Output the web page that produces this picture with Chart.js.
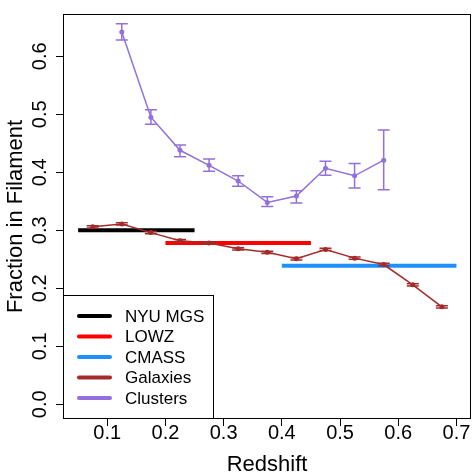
<!DOCTYPE html>
<html>
<head>
<meta charset="utf-8">
<script src="https://cdn.jsdelivr.net/npm/chart.js@4.4.1/dist/chart.umd.min.js"></script>
<style>
  html, body { margin: 0; padding: 0; background: #fff; }
  #wrap { width: 475px; height: 476px; }
</style>
</head>
<body>
<div id="wrap"><canvas id="chart" width="475" height="476"></canvas></div>
<script>
// --- data ---
const xTicks = [0.1, 0.2, 0.3, 0.4, 0.5, 0.6, 0.7];
const yTicks = [0.0, 0.1, 0.2, 0.3, 0.4, 0.5, 0.6];

const galaxyZ    = [0.075, 0.125, 0.175, 0.225, 0.275, 0.325, 0.375, 0.425, 0.475, 0.525, 0.575, 0.625, 0.675];
const galaxyFrac = [0.306, 0.311, 0.296, 0.282, 0.278, 0.268, 0.262, 0.251, 0.267, 0.252, 0.241, 0.206, 0.168];
const galaxyErr  = [0.002, 0.002, 0.002, 0.002, 0.002, 0.002, 0.002, 0.002, 0.002, 0.002, 0.002, 0.002, 0.002];

const clusterZ    = [0.125, 0.175, 0.225, 0.275, 0.325, 0.375, 0.425, 0.475, 0.525, 0.575];
const clusterFrac = [0.642, 0.495, 0.438, 0.412, 0.385, 0.348, 0.359, 0.407, 0.394, 0.421];
const clusterLo   = [0.628, 0.483, 0.427, 0.402, 0.376, 0.341, 0.347, 0.395, 0.373, 0.370];
const clusterHi   = [0.656, 0.508, 0.447, 0.423, 0.394, 0.358, 0.368, 0.419, 0.415, 0.473];

const nyuZ = [0.05, 0.25];   const nyuFrac = 0.300;
const lowzZ = [0.20, 0.45];  const lowzFrac = 0.278;
const cmassZ = [0.40, 0.70]; const cmassFrac = 0.239;

const legendLabels = ['NYU MGS', 'LOWZ', 'CMASS', 'Galaxies', 'Clusters'];

// --- helpers ---
const pts = (xs, ys) => xs.map((x, i) => ({ x, y: ys[i] }));
const flat = (xs, y) => xs.map(x => ({ x, y }));
const FONT = 'Liberation Sans, Arial, sans-serif';

// error bars: vertical line + caps
const errorBars = {
  id: 'errorBars',
  afterDatasetsDraw(chart) {
    const { ctx, scales: { x, y } } = chart;
    const drawBar = (xv, lo, hi, color, cap, lw) => {
      const px = x.getPixelForValue(xv);
      const p1 = y.getPixelForValue(lo), p2 = y.getPixelForValue(hi);
      ctx.strokeStyle = color;
      ctx.lineWidth = lw;
      ctx.beginPath();
      ctx.moveTo(px, p1); ctx.lineTo(px, p2);
      ctx.moveTo(px - cap, p1); ctx.lineTo(px + cap, p1);
      ctx.moveTo(px - cap, p2); ctx.lineTo(px + cap, p2);
      ctx.stroke();
    };
    ctx.save();
    galaxyZ.forEach((z, i) =>
      drawBar(z, galaxyFrac[i] - galaxyErr[i], galaxyFrac[i] + galaxyErr[i], '#A52A2A', 6, 1.5));
    clusterZ.forEach((z, i) =>
      drawBar(z, clusterLo[i], clusterHi[i], '#9370DB', 6, 1.5));
    ctx.restore();
  }
};

// R-style box around the plot + legend box in bottom-left corner
const boxAndLegend = {
  id: 'boxAndLegend',
  afterDraw(chart) {
    const { ctx, chartArea: a } = chart;
    ctx.save();
    ctx.strokeStyle = '#000';
    ctx.lineWidth = 1;
    ctx.strokeRect(a.left + 0.5, a.top + 0.5, a.right - a.left - 1, a.bottom - a.top - 1);

    // legend
    const lx = a.left, ly = 295, lw = 150, lh = a.bottom - ly;
    ctx.fillStyle = '#fff';
    ctx.fillRect(lx + 0.5, ly + 0.5, lw, lh - 1);
    ctx.strokeRect(lx + 0.5, ly + 0.5, lw, lh - 1);
    ctx.font = '17px ' + FONT;
    ctx.textBaseline = 'middle';
    ctx.textAlign = 'left';
    legendLabels.forEach((lab, i) => {
      const ds = chart.data.datasets.find(d => d.label === lab);
      const yy = ly + 21 + i * 20.5;
      ctx.strokeStyle = ds.borderColor;
      ctx.lineWidth = 4;
      ctx.lineCap = 'round';
      ctx.beginPath();
      ctx.moveTo(lx + 16, yy); ctx.lineTo(lx + 47, yy);
      ctx.stroke();
      ctx.fillStyle = '#000';
      ctx.fillText(lab, lx + 62, yy + 1);
    });
    ctx.restore();
  }
};

const ctx = document.getElementById('chart');

new Chart(ctx, {
  type: 'line',
  data: {
    datasets: [
      { label: 'Clusters', data: pts(clusterZ, clusterFrac), borderColor: '#9370DB', backgroundColor: '#9370DB',
        borderWidth: 1.5, pointRadius: 2.5, pointBorderWidth: 0, tension: 0, order: 0 },
      { label: 'Galaxies', data: pts(galaxyZ, galaxyFrac), borderColor: '#A52A2A', backgroundColor: '#A52A2A',
        borderWidth: 1.5, pointRadius: 2.5, pointBorderWidth: 0, tension: 0, order: 1 },
      { label: 'CMASS', data: flat(cmassZ, cmassFrac), borderColor: '#1E90FF', backgroundColor: '#1E90FF',
        borderWidth: 4, pointRadius: 0, order: 2 },
      { label: 'LOWZ', data: flat(lowzZ, lowzFrac), borderColor: '#FF0000', backgroundColor: '#FF0000',
        borderWidth: 4, pointRadius: 0, order: 3 },
      { label: 'NYU MGS', data: flat(nyuZ, nyuFrac), borderColor: '#000000', backgroundColor: '#000000',
        borderWidth: 4, pointRadius: 0, order: 4 },
    ],
  },
  options: {
    responsive: false,
    animation: false,
    devicePixelRatio: 1,
    layout: { padding: { top: 7, right: 2, left: 0, bottom: 0 } },
    plugins: { legend: { display: false }, tooltip: { enabled: false } },
    scales: {
      x: {
        type: 'linear',
        min: 0.024,
        max: 0.725,
        afterBuildTicks: (s) => { s.ticks = xTicks.map(v => ({ value: v })); },
        afterFit: (s) => { s.height = 57; },
        ticks: {
          font: { family: FONT, size: 20 },
          color: '#000',
          padding: -5,
          maxRotation: 0,
          callback: (v) => v.toFixed(1),
        },
        grid: { drawOnChartArea: false, drawTicks: true, tickLength: 7, color: '#000', lineWidth: 1 },
        border: { display: false },
        title: { display: true, text: 'Redshift', color: '#000',
                 font: { family: FONT, size: 22, lineHeight: 1.0 }, padding: { top: 0, bottom: 0 } },
      },
      y: {
        type: 'linear',
        min: -0.0254,
        max: 0.673,
        afterBuildTicks: (s) => { s.ticks = yTicks.map(v => ({ value: v })); },
        afterFit: (s) => { s.width = 63; },
        ticks: {
          font: { family: FONT, size: 20 },
          color: '#000',
          padding: 2,
          minRotation: 90,
          maxRotation: 90,
          crossAlign: 'center',
          callback: (v) => v.toFixed(1),
        },
        grid: { drawOnChartArea: false, drawTicks: true, tickLength: 7, color: '#000', lineWidth: 1 },
        border: { display: false },
        title: { display: true, text: 'Fraction in Filament', color: '#000',
                 font: { family: FONT, size: 22 }, padding: { top: 3, bottom: 0 } },
      },
    },
  },
  plugins: [errorBars, boxAndLegend],
});
</script>
</body>
</html>
